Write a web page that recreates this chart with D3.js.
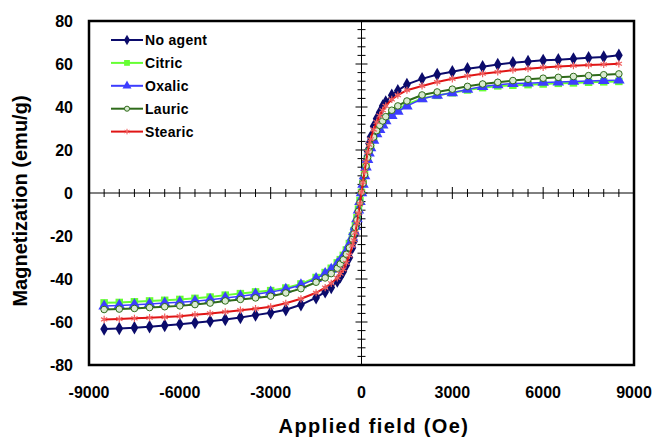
<!DOCTYPE html>
<html>
<head>
<meta charset="utf-8">
<script src="https://cdn.jsdelivr.net/npm/d3@7"></script>
<style>
  body { margin: 0; background: #fff; }
  text { font-family: Arial, "Liberation Sans", sans-serif; font-weight: bold; }
</style>
</head>
<body>
<div id="chart"></div>
<script>
// applied field (Oe) at which each sample was measured
var fields = [-8500, -8000, -7500, -7000, -6500, -6000, -5500, -5000, -4500, -4000, -3500, -3000, -2500, -2000,
  -1500, -1200, -1000, -800, -700, -600, -500, -400, -300, -250, -200, -150, -100, -50,
  0, 50, 100, 150, 200, 250, 300, 400, 500, 600, 700, 800, 1000, 1200, 1500,
  2000, 2500, 3000, 3500, 4000, 4500, 5000, 5500, 6000, 6500, 7000, 7500, 8000, 8500];

var seriesNames = ["No agent", "Citric", "Oxalic", "Lauric", "Stearic"];

// magnetization (emu/g)
var noAgent = [-63.3, -63.0, -62.7, -62.2, -61.6, -61.0, -60.3, -59.6, -58.8, -57.9, -56.8, -55.7, -54.3, -52.0,
  -48.7, -46.0, -44.0, -41.0, -39.0, -36.5, -33.5, -30.0, -25.5, -22.5, -19.0, -14.5, -10.0, -5.0,
  0.5, 5.5, 10.5, 15.0, 19.5, 23.0, 26.0, 31.0, 34.5, 37.5, 40.5, 42.3, 45.5, 47.6, 50.5,
  53.1, 55.1, 56.4, 57.8, 58.7, 59.8, 60.6, 61.2, 61.7, 62.0, 62.4, 62.9, 63.3, 64.1];
var citric = [-51.1, -50.9, -50.6, -50.2, -49.9, -49.5, -49.0, -48.4, -47.5, -46.8, -46.0, -45.4, -44.2, -42.3,
  -39.3, -37.0, -35.0, -32.5, -31.0, -29.0, -26.5, -23.5, -20.0, -17.5, -15.0, -11.5, -7.5, -3.5,
  0.3, 4.5, 8.5, 12.5, 16.0, 19.0, 21.5, 25.0, 28.0, 30.5, 32.5, 34.5, 37.0, 39.0, 41.2,
  44.0, 45.4, 46.6, 47.9, 49.0, 49.8, 50.1, 50.4, 50.7, 51.0, 51.2, 51.5, 51.7, 51.9];
var oxalic = [-52.6, -52.3, -52.0, -51.6, -51.2, -50.8, -50.3, -49.6, -48.8, -48.0, -47.1, -46.1, -44.8, -42.8,
  -39.8, -37.5, -35.5, -33.0, -31.5, -29.5, -27.0, -24.0, -20.5, -18.0, -15.5, -12.0, -8.0, -4.0,
  0.0, 4.0, 8.0, 12.0, 15.5, 18.5, 21.0, 24.5, 27.5, 29.5, 31.5, 33.5, 36.0, 38.0, 40.4,
  43.8, 45.4, 46.6, 48.2, 49.5, 50.3, 50.9, 51.1, 51.4, 51.6, 51.9, 52.1, 52.3, 52.5];
var lauric = [-54.2, -54.0, -53.7, -53.3, -52.9, -52.5, -51.9, -51.2, -50.2, -49.5, -48.8, -48.0, -46.5, -44.5,
  -41.5, -39.5, -37.5, -35.0, -33.0, -31.0, -28.5, -25.5, -21.5, -19.0, -16.0, -12.5, -8.5, -4.5,
  0.3, 4.5, 8.5, 12.5, 16.5, 19.5, 22.0, 26.0, 29.0, 31.5, 33.5, 35.5, 38.5, 40.5, 42.8,
  45.6, 47.0, 48.3, 49.6, 50.7, 51.5, 52.3, 52.9, 53.4, 53.8, 54.2, 54.6, 55.0, 55.4];
var stearic = [-58.8, -58.6, -58.3, -58.0, -57.7, -57.3, -56.6, -56.0, -55.3, -54.5, -53.8, -52.9, -51.3, -49.2,
  -46.4, -44.0, -42.0, -39.5, -37.5, -35.5, -32.5, -29.0, -24.5, -22.0, -18.5, -14.0, -9.5, -5.0,
  0.5, 5.0, 10.0, 14.5, 19.0, 22.5, 25.0, 29.5, 33.0, 36.0, 38.5, 40.5, 43.5, 45.5, 47.8,
  49.8, 51.6, 53.1, 54.4, 55.5, 56.3, 57.2, 57.8, 58.4, 58.8, 59.2, 59.5, 59.8, 60.1];

var xTicks = [-9000, -6000, -3000, 0, 3000, 6000, 9000];
var yTicks = [-80, -60, -40, -20, 0, 20, 40, 60, 80];

var W = 656, H = 437;
var margin = {top: 21, right: 22, bottom: 72, left: 89};
var width = W - margin.left - margin.right,
    height = H - margin.top - margin.bottom;

var svg = d3.select("#chart").append("svg")
  .attr("width", W).attr("height", H);
var g = svg.append("g")
  .attr("transform", "translate(" + margin.left + "," + margin.top + ")");

var x = d3.scaleLinear().domain([-9000, 9000]).range([0, width]);
var y = d3.scaleLinear().domain([-80, 80]).range([height, 0]);

var styles = [
  {color: "#0b0b6b", symbol: d3.symbolDiamond, size: 52, fill: "#0b0b6b", lw: 2},
  {color: "#66ff33", symbol: d3.symbolSquare, size: 56, fill: "#66ff33", lw: 2},
  {color: "#3d3dff", symbol: d3.symbolTriangle, size: 58, fill: "#3d3dff", lw: 1.5},
  {color: "#2f6b1a", symbol: d3.symbolCircle, size: 34, fill: "#d8ead0", lw: 2},
  {color: "#e01515", symbol: d3.symbolAsterisk, size: 36, fill: "none", lw: 2}
];
var allSeries = [noAgent, citric, oxalic, lauric, stearic];

// centre axes with cross ticks
var x0 = x(0), y0 = y(0);
g.append("line").attr("x1", 0).attr("x2", width).attr("y1", y0).attr("y2", y0)
  .attr("stroke", "#000").attr("stroke-width", 1);
g.append("line").attr("x1", x0).attr("x2", x0).attr("y1", 0).attr("y2", height)
  .attr("stroke", "#000").attr("stroke-width", 1);

g.append("g").selectAll("line")
  .data(d3.range(-9000, 9001, 500))
  .join("line")
  .attr("x1", d => x(d)).attr("x2", d => x(d))
  .attr("y1", d => y0 - (d % 3000 === 0 ? 6 : 4))
  .attr("y2", d => y0 + (d % 3000 === 0 ? 6 : 4))
  .attr("stroke", "#000").attr("stroke-width", 1);

g.append("g").selectAll("line")
  .data(d3.range(-80, 81, 4))
  .join("line")
  .attr("y1", d => y(d)).attr("y2", d => y(d))
  .attr("x1", d => x0 - (d % 20 === 0 ? 6 : 4))
  .attr("x2", d => x0 + (d % 20 === 0 ? 6 : 4))
  .attr("stroke", "#000").attr("stroke-width", 1);

// series
var line = d3.line()
  .x((d, i) => x(fields[i]))
  .y(d => y(d));

allSeries.forEach(function(vals, k) {
  var s = styles[k];
  var sg = g.append("g");
  sg.append("path")
    .datum(vals)
    .attr("d", line)
    .attr("fill", "none")
    .attr("stroke", s.color)
    .attr("stroke-width", s.lw);
  sg.selectAll("path.m")
    .data(vals)
    .join("path")
    .attr("class", "m")
    .attr("transform", (d, i) => "translate(" + x(fields[i]) + "," + y(d) + ")")
    .attr("d", d3.symbol().type(s.symbol).size(s.size))
    .attr("fill", s.fill)
    .attr("stroke", k === 4 ? "#f06060" : (k === 3 ? s.color : "none"))
    .attr("stroke-width", k === 4 ? 1.2 : 1);
});

// frame
g.append("rect")
  .attr("x", 0).attr("y", 0).attr("width", width).attr("height", height)
  .attr("fill", "none").attr("stroke", "#000").attr("stroke-width", 2.5);

// tick labels
g.append("g").selectAll("text")
  .data(yTicks)
  .join("text")
  .attr("x", -16).attr("y", d => y(d)).attr("dy", "0.36em")
  .attr("text-anchor", "end")
  .style("font-size", "16px")
  .text(d => d);

g.append("g").selectAll("text")
  .data(xTicks)
  .join("text")
  .attr("x", d => x(d)).attr("y", height + 33)
  .attr("text-anchor", "middle")
  .style("font-size", "16px")
  .text(d => d);

// axis titles
svg.append("text")
  .attr("x", 374).attr("y", 433)
  .attr("text-anchor", "middle")
  .style("font-size", "20px")
  .style("letter-spacing", "1.4px")
  .text("Applied field (Oe)");

svg.append("text")
  .attr("transform", "translate(27,201) rotate(-90)")
  .attr("text-anchor", "middle")
  .style("font-size", "20px")
  .text("Magnetization (emu/g)");

// legend
var leg = svg.append("g");
seriesNames.forEach(function(name, k) {
  var s = styles[k];
  var ly = 40 + k * 22.9;
  leg.append("line")
    .attr("x1", 111).attr("x2", 143).attr("y1", ly).attr("y2", ly)
    .attr("stroke", s.color).attr("stroke-width", 2);
  leg.append("path")
    .attr("transform", "translate(127," + ly + ")")
    .attr("d", d3.symbol().type(s.symbol).size(s.size * 0.6))
    .attr("fill", s.fill)
    .attr("stroke", k === 4 ? "#f06060" : (k === 3 ? s.color : "none"));
  leg.append("text")
    .attr("x", 145).attr("y", ly).attr("dy", "0.36em")
    .style("font-size", "14px")
    .style("letter-spacing", "0.3px")
    .text(name);
});
</script>
</body>
</html>
